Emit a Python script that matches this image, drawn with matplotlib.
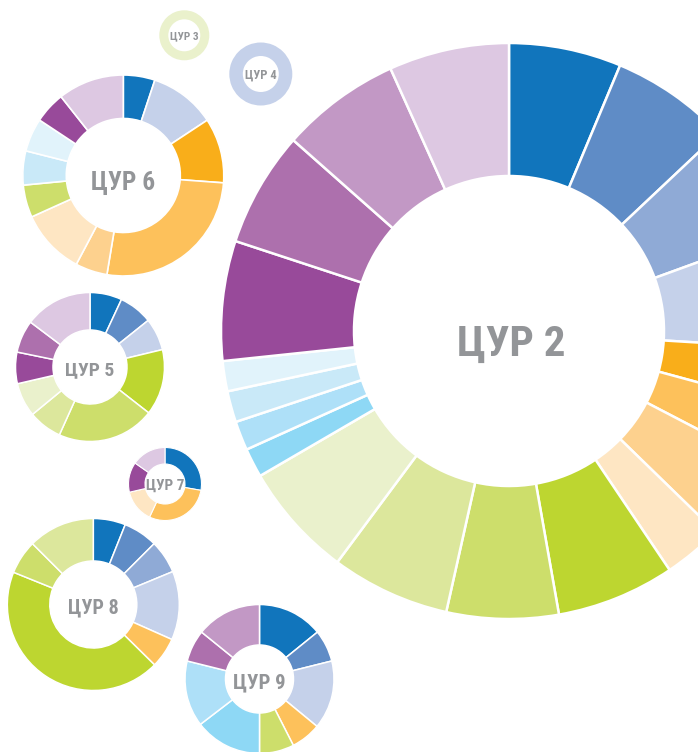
import matplotlib
matplotlib.use("Agg")
import matplotlib.pyplot as plt
from matplotlib import font_manager as fm

# ---------------- palette ----------------
palette = {
    "blue1": "#1175BC", "blue2": "#5F8CC6", "blue3": "#8FAAD6", "blue4": "#C5D1EA",
    "orange1": "#F9AE1A", "orange2": "#FDC15B", "orange3": "#FDD18E", "orange4": "#FEE6C3",
    "lime1": "#BDD630", "lime2": "#CDDE6B", "lime3": "#DCE79C", "lime4": "#EAF1CC",
    "sky1": "#8ED8F5", "sky2": "#AEE0F8", "sky3": "#C9E9F8", "sky4": "#E1F3FB",
    "purple1": "#984A9A", "purple2": "#AD70AD", "purple3": "#C298C5", "purple4": "#DDC8E2",
}

# ---------------- data (shares, clockwise from top) ----------------
labels = ["ЦУР 2", "ЦУР 3", "ЦУР 4", "ЦУР 5", "ЦУР 6", "ЦУР 7", "ЦУР 8", "ЦУР 9"]

cyr2_values = [22.7, 24.0, 23.3, 23.5, 11.7, 12.3, 16.7, 11.9, 23.9, 22.6, 24.0, 23.2,
               5.9, 5.9, 6.3, 6.1, 24.2, 23.3, 24.2, 24.3]
cyr2_colors = ["blue1", "blue2", "blue3", "blue4", "orange1", "orange2", "orange3", "orange4",
               "lime1", "lime2", "lime3", "lime4", "sky1", "sky2", "sky3", "sky4",
               "purple1", "purple2", "purple3", "purple4"]

cyr3_values = [1]
cyr3_colors = ["lime4"]

cyr4_values = [1]
cyr4_colors = ["blue4"]

cyr5_values = [25, 26.3, 25.2, 51.5, 76.3, 26.2, 26.5, 24.6, 25.4, 53]
cyr5_colors = ["blue1", "blue2", "blue4", "lime1", "lime2", "lime3", "lime4",
               "purple1", "purple2", "purple4"]

cyr6_values = [18.3, 38.3, 37.6, 95.2, 18.5, 37.8, 18.8, 19.7, 19.3, 18.2, 38.3]
cyr6_colors = ["blue1", "blue4", "orange1", "orange2", "orange3", "orange4", "lime2",
               "sky3", "sky4", "purple1", "purple4"]

cyr7_values = [100, 105, 52, 48, 55]
cyr7_colors = ["blue1", "orange2", "orange4", "purple1", "purple4"]

cyr8_values = [21.8, 23.2, 22.5, 46.5, 20.6, 157.4, 23, 45]
cyr8_colors = ["blue1", "blue2", "blue3", "blue4", "orange2", "lime1", "lime2", "lime3"]

cyr9_values = [51, 25, 53.5, 23.5, 27, 52.5, 51.5, 25, 51]
cyr9_colors = ["blue1", "blue2", "blue4", "orange2", "lime2", "sky1", "sky2",
               "purple2", "purple3"]

series_values = [cyr2_values, cyr3_values, cyr4_values, cyr5_values,
                 cyr6_values, cyr7_values, cyr8_values, cyr9_values]
series_colors = [cyr2_colors, cyr3_colors, cyr4_colors, cyr5_colors,
                 cyr6_colors, cyr7_colors, cyr8_colors, cyr9_colors]

# ---------------- layout (pixel coordinates, y downward) ----------------
# center x, center y, outer radius, inner radius, edge width, font size, text y, text x shift
layout = [
    (509.0, 331.0, 288.0, 155.0, 1.8, 31.0, 340.0, 2.0),
    (184.3, 35.3, 25.0, 16.0, 0.0, 8.2, 35.5, 0.0),
    (260.8, 74.0, 31.5, 18.0, 0.0, 9.0, 74.5, 0.0),
    (90.0, 367.0, 74.5, 37.0, 1.1, 14.0, 368.0, 0.0),
    (123.3, 175.5, 100.5, 57.0, 1.2, 18.3, 180.5, 0.0),
    (165.0, 484.0, 36.5, 20.0, 0.8, 11.0, 484.0, 0.0),
    (93.3, 604.5, 86.0, 43.5, 1.1, 14.5, 606.0, 0.0),
    (259.5, 679.0, 74.5, 34.0, 1.1, 15.0, 681.0, 0.0),
]

# ---------------- font choice (condensed bold if available) ----------------
available = {f.name for f in fm.fontManager.ttflist}
font_list = []
for cand in ["Liberation Sans Narrow", "Roboto Condensed", "DejaVu Sans Condensed",
             "Open Sans Condensed", "Liberation Sans", "DejaVu Sans"]:
    if cand in available:
        font_list.append(cand)
if not font_list:
    font_list = ["DejaVu Sans"]

W, H = 698, 752
fig = plt.figure(figsize=(W / 100, H / 100), dpi=100)
ax = fig.add_axes([0, 0, 1, 1])

for lab, vals, cols, (cx, cy, R, r, lw, fs, ty, dx) in zip(labels, series_values,
                                                            series_colors, layout):
    ax.pie(vals, colors=[palette[c] for c in cols], center=(cx, cy), radius=R,
           startangle=-90, counterclock=True,
           wedgeprops=dict(width=R - r, edgecolor="white", linewidth=lw,
                           antialiased=True))
    cap_h = 0.72 * fs * 100 / 72
    ax.text(cx + dx, ty + cap_h / 2, lab, ha="center", va="baseline",
            fontsize=fs, fontweight="bold", color="#939598", family=font_list)

ax.set_xlim(0, W)
ax.set_ylim(H, 0)
ax.set_aspect("equal")
ax.axis("off")
fig.savefig("out.png", dpi=100, facecolor="white")
